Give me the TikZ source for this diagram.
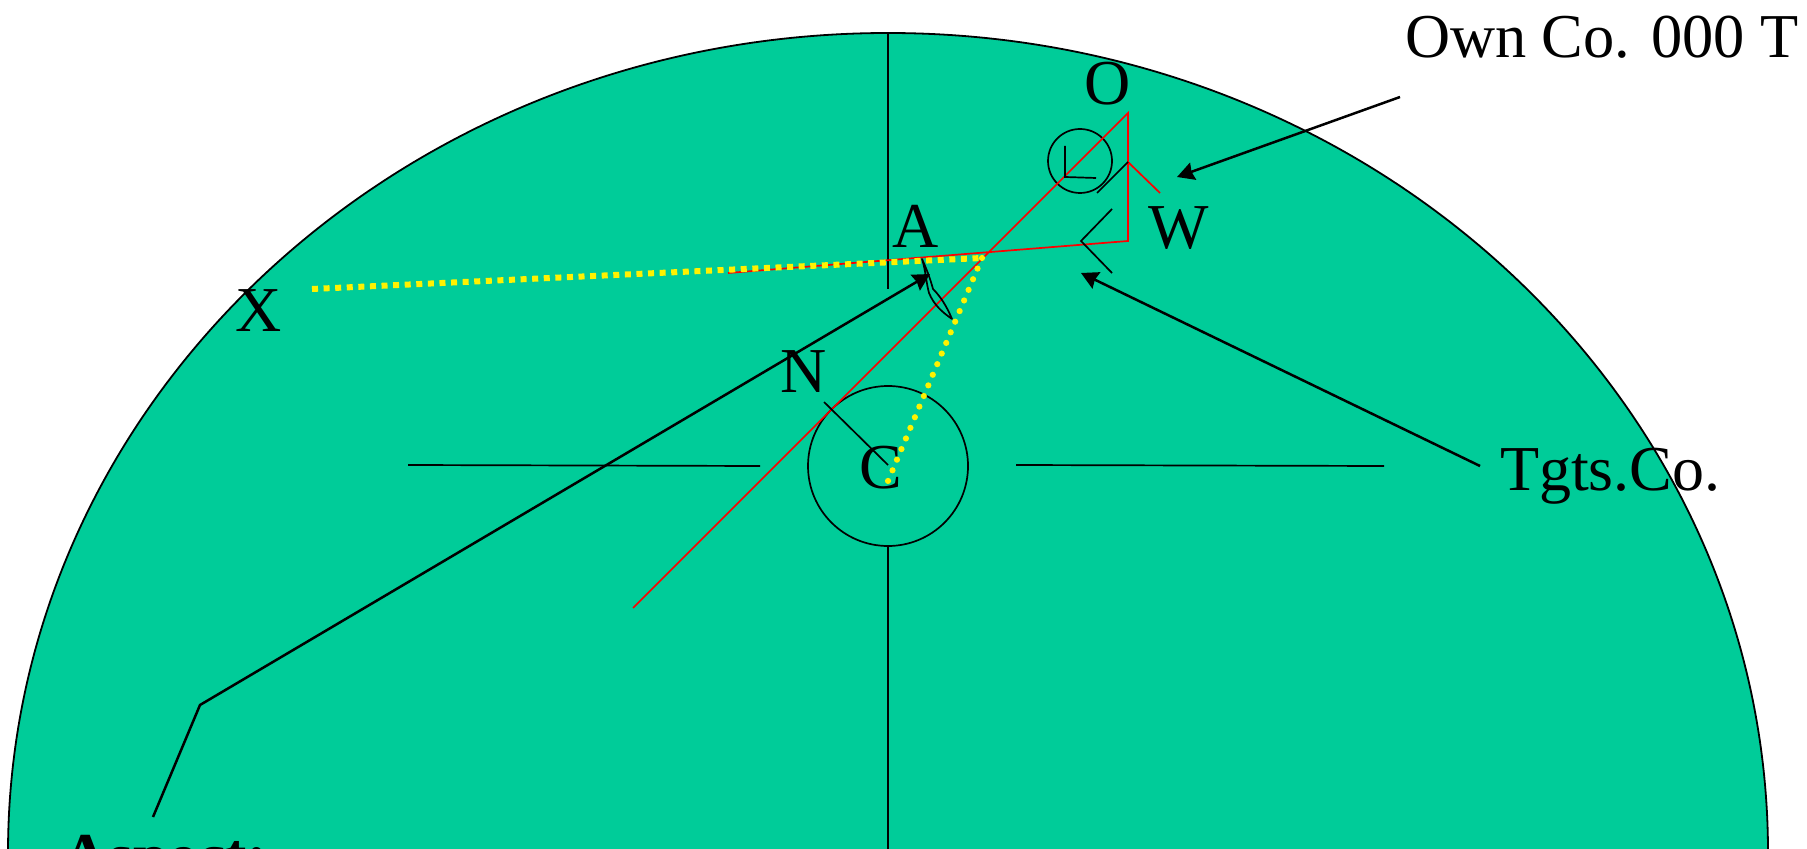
\documentclass[tikz,border=0pt]{standalone}
\usepackage{fontspec}
\setmainfont{Liberation Serif}
\usetikzlibrary{arrows.meta,shapes.geometric}
\definecolor{cfill}{HTML}{00CC99}
\tikzset{
  x=0.5pt,y=-0.5pt,
  lbl/.style={anchor=base west,inner sep=0pt,outer sep=0pt,font=\fontsize{32}{38}\selectfont},
  thinblk/.style={draw=black,line width=0.85pt},
  redl/.style={draw=red,line width=0.85pt},
  arr/.style={draw=black,line width=1.25pt,-{Stealth[inset=0.8pt,length=8.5pt,width=9pt]}},
  ydash/.style={draw=yellow,line width=3pt,dash pattern=on 3pt off 2.8pt},
  ydot/.style={draw=yellow,line width=3.1pt,line cap=round,dash pattern=on 0pt off 5.76pt},
  ring/.style={circle,draw=black,line width=0.85pt,inner sep=0pt},
  disc/.style={ellipse,draw=black,line width=0.9pt,fill=cfill,inner sep=0pt,minimum width=880pt,minimum height=820pt},
}
\begin{document}
\begin{tikzpicture}
\useasboundingbox (0,0) rectangle (1807,849);
\clip (0,0) rectangle (1807,849);
% key points
\coordinate (Ot) at (1128,113);
\coordinate (Wt) at (1128,241);
\coordinate (Wm) at (1128,162);
\coordinate (Wr) at (1160,193);
\coordinate (Wb) at (1097,193);
\coordinate (Rl) at (728,273);
\coordinate (Rd) at (633,608);
\coordinate (Y0) at (312,289);
\coordinate (Y1) at (982,258);
\coordinate (Y2) at (888,481);
\coordinate (Nc) at (824,402);
\coordinate (Cc) at (888,465);
\coordinate (VtA) at (888,33);
\coordinate (VtB) at (888,289);
\coordinate (VbA) at (888,547);
\coordinate (VbB) at (888,849);
\coordinate (HlA) at (408,465);
\coordinate (HlB) at (760,466);
\coordinate (HrA) at (1016,465);
\coordinate (HrB) at (1384,466);
\coordinate (Ch1) at (1112,209);
\coordinate (Ch2) at (1081,241);
\coordinate (Ch3) at (1112,273);
\coordinate (L1) at (1065,146);
\coordinate (L2) at (1065,177);
\coordinate (L3) at (1096,178);
\coordinate (OwnS) at (1400,97);
\coordinate (OwnE) at (1177,177);
\coordinate (TgS) at (1480,466);
\coordinate (TgE) at (1081,273);
\coordinate (As1) at (153,817);
\coordinate (As2) at (200,705);
\coordinate (As3) at (930,274);
% compass disc
\node[disc] (dial) at (888,853) {};
% cross
\draw[thinblk] (VtA) -- (VtB);
\draw[thinblk] (VbA) -- (VbB);
\draw[thinblk] (HlA) -- (HlB);
\draw[thinblk] (HrA) -- (HrB);
% rings
\node[ring,minimum size=80pt] (hub) at (888,466) {};
\node[ring,minimum size=32pt] (own) at (1080,161) {};
% red vector triangle
\draw[redl,line join=miter] (Rl) -- (Wt) -- (Ot) -- (Rd);
\draw[redl] (Wm) -- (Wr);
% black marks
\draw[thinblk] (Wb) -- (Wm);
\draw[thinblk] (Ch1) -- (Ch2) -- (Ch3);
\draw[thinblk] (L1) -- (L2) -- (L3);
\draw[thinblk] (Nc) -- (Cc);
% pointers
\draw[arr] (OwnS) -- (OwnE);
\draw[arr] (TgS) -- (TgE);
\draw[arr] (As1) -- (As2) -- (As3);
% yellow lines
\draw[ydash] (Y0) -- (Y1);
\draw[ydot] (Y1) -- (Y2);
% aircraft
\draw[draw=black,line width=0.85pt,line join=round]
  (922,259) .. controls (927,270) and (930,278) .. (933,289)
  .. controls (941,297) and (947,307) .. (952,319)
  .. controls (942,312) and (934,305) .. (929,293)
  .. controls (926,282) and (926,272) .. cycle;
% labels
\node[lbl] (tO) at (1084,105) {O};
\node[lbl] (tA) at (892,248) {A};
\node[lbl] (tW) at (1148,249) {W};
\node[lbl] (tN) at (780,393) {N};
\node[lbl] (tC) at (859,488) {C};
\node[lbl] (tX) at (235,332) {X};
\node[lbl,font=\fontsize{31.2}{38}\selectfont] (tOwn) at (1405,58) {Own Co. 000 T};
\node[lbl] (tTg) at (1500,490) {Tgts.Co.};
\node[lbl,font=\fontsize{32}{38}\selectfont\bfseries] (tAs) at (62,877) {Aspect:};
\end{tikzpicture}
\end{document}
